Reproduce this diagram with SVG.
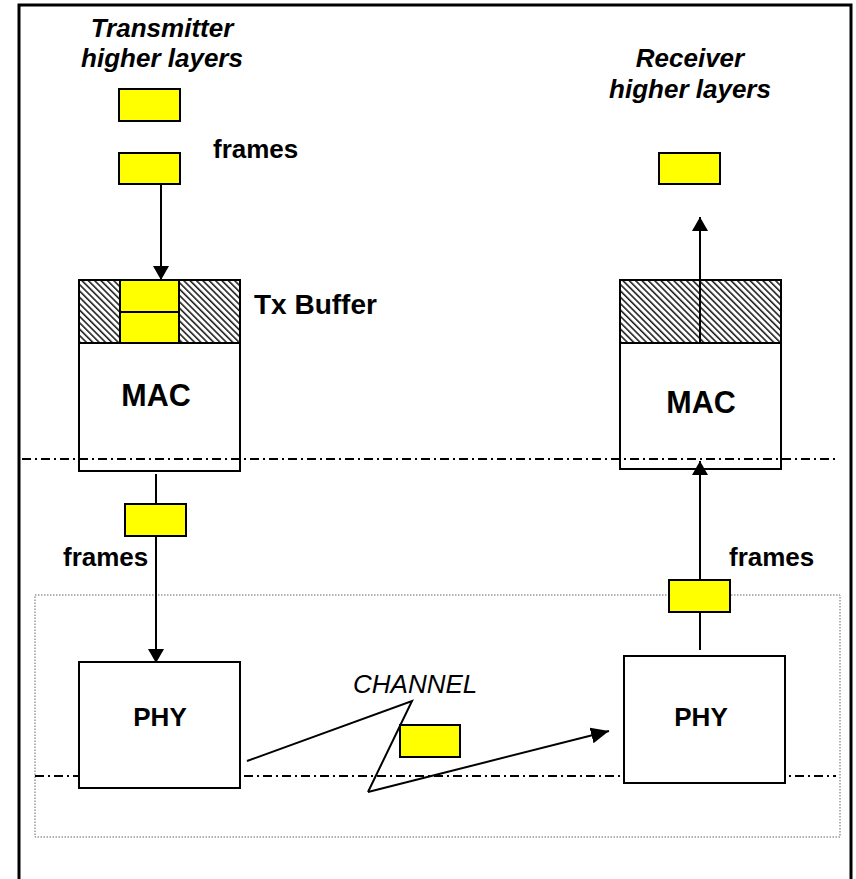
<svg xmlns="http://www.w3.org/2000/svg" width="856" height="879" viewBox="0 0 856 879">
<style>
  .box{fill:#fff;stroke:#000;stroke-width:2}
  .frame{fill:#ffff00;stroke:#000;stroke-width:2}
  .hatch{fill:url(#hatch);stroke:#000;stroke-width:2}
  .conn{fill:none;stroke:#000;stroke-width:2}
  .dashdot{fill:none;stroke:#000;stroke-width:2;stroke-dasharray:9 4 2 4}
  .lbl{font-family:"Liberation Sans",Arial,sans-serif;fill:#000}
  .b{font-weight:bold}
  .i{font-style:italic}
</style>
<defs>
  <pattern id="hatch" patternUnits="userSpaceOnUse" width="4.5" height="4.5" patternTransform="rotate(45)">
    <rect width="4.5" height="4.5" fill="#fff"/>
    <line x1="0" y1="1" x2="4.5" y2="1" stroke="#000" stroke-width="1.4"/>
  </pattern>
  <marker id="ah" markerUnits="userSpaceOnUse" markerWidth="16" markerHeight="18" refX="14" refY="8" orient="auto">
    <path d="M0,0 L14,8 L0,16 z" fill="#000"/>
  </marker>
  <marker id="ahBig" markerUnits="userSpaceOnUse" markerWidth="20" markerHeight="18" refX="18" refY="8" orient="auto">
    <path d="M0,0 L18,8 L0,16 z" fill="#000"/>
  </marker>
</defs>
<rect width="856" height="879" fill="#fff"/>
<rect x="19" y="5" width="832" height="890" fill="none" stroke="#000" stroke-width="3"/>

<g id="phy-zone">
  <rect x="35" y="595" width="805" height="242" fill="none" stroke="#666" stroke-width="1" stroke-dasharray="1.5 1.5"/>
</g>

<g id="tx-title">
  <text class="lbl b i" x="162" y="37" font-size="26" text-anchor="middle">Transmitter</text>
  <text class="lbl b i" x="162" y="67" font-size="26" text-anchor="middle">higher layers</text>
</g>
<g id="rx-title">
  <text class="lbl b i" x="690" y="67" font-size="26" text-anchor="middle">Receiver</text>
  <text class="lbl b i" x="690" y="98" font-size="26" text-anchor="middle">higher layers</text>
</g>

<g id="tx-frame1"><rect class="frame" x="119" y="89" width="61" height="32"/></g>
<g id="tx-frame2"><rect class="frame" x="119" y="153" width="61" height="31"/></g>
<g id="tx-frames-label"><text class="lbl b" x="213" y="158" font-size="26">frames</text></g>

<g id="tx-buffer">
  <rect class="hatch" x="79" y="280" width="161" height="63"/>
  <rect class="frame" x="120" y="280" width="59" height="32"/>
  <rect class="frame" x="120" y="312" width="59" height="31"/>
  <text class="lbl b" x="254" y="314" font-size="28">Tx Buffer</text>
</g>
<g id="tx-mac">
  <rect class="box" x="79" y="343" width="161" height="128"/>
  <text class="lbl b" x="156" y="406" font-size="30.5" text-anchor="middle">MAC</text>
</g>

<g id="rx-frame"><rect class="frame" x="659" y="153" width="61" height="31"/></g>
<g id="rx-buffer"><rect class="hatch" x="620" y="280" width="161" height="63"/></g>
<g id="rx-mac">
  <rect class="box" x="620" y="343" width="161" height="126"/>
  <text class="lbl b" x="701" y="413" font-size="30.5" text-anchor="middle">MAC</text>
</g>

<g id="layer-lines">
  <line class="dashdot" x1="22" y1="459" x2="837" y2="459"/>
  <line class="dashdot" x1="35" y1="776" x2="836" y2="776"/>
</g>

<g id="tx-frame3"><rect class="frame" x="125" y="504" width="61" height="32"/></g>
<g id="tx-frames-label2"><text class="lbl b" x="63" y="566" font-size="26">frames</text></g>

<g id="tx-phy">
  <rect class="box" x="79" y="662" width="161" height="126"/>
  <text class="lbl b" x="160" y="726" font-size="26" text-anchor="middle">PHY</text>
</g>

<g id="rx-frame2"><rect class="frame" x="669" y="580" width="61" height="32"/></g>
<g id="rx-frames-label"><text class="lbl b" x="729" y="566" font-size="26">frames</text></g>

<g id="rx-phy">
  <rect class="box" x="624" y="656" width="161" height="127"/>
  <text class="lbl b" x="701" y="726" font-size="26" text-anchor="middle">PHY</text>
</g>

<g id="channel">
  <text class="lbl i" x="353" y="693" font-size="26">CHANNEL</text>
  <rect class="frame" x="400" y="725" width="60" height="32"/>
</g>

<g id="connectors">
  <line class="conn" x1="161" y1="184" x2="161" y2="280" marker-end="url(#ah)"/>
  <line class="conn" x1="156" y1="474" x2="156" y2="504"/>
  <line class="conn" x1="156" y1="536" x2="156" y2="663" marker-end="url(#ah)"/>
  <line class="conn" x1="700" y1="343" x2="700" y2="217" marker-end="url(#ah)"/>
  <line class="conn" x1="700" y1="650" x2="700" y2="612"/>
  <line class="conn" x1="700" y1="580" x2="700" y2="461" marker-end="url(#ah)"/>
  <polyline class="conn" points="247,761 412,701 368,792"/>
  <line class="conn" x1="368" y1="792" x2="609" y2="731" stroke-width="3" marker-end="url(#ahBig)"/>
</g>
</svg>
